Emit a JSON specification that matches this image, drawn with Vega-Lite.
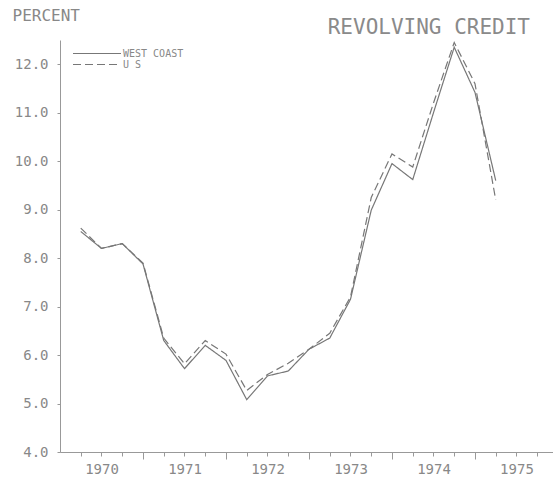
{
  "$schema": "https://vega.github.io/schema/vega-lite/v6.json",
  "width": 493,
  "height": 412,
  "autosize": {"type": "none"},
  "padding": {"left": 60, "top": 40, "right": 0, "bottom": 25},
  "background": "white",
  "config": {"view": {"stroke": null}, "font": "DejaVu Sans Mono"},
  "title": {"text": "REVOLVING CREDIT", "anchor": "end", "dx": -23, "dy": 34, "offset": 3, "fontSize": 21, "font": "DejaVu Sans Mono", "fontWeight": "normal", "color": "#8a8a8a"},
  "data": {"values": [
    {"t": 1970.25, "series": "WEST COAST", "value": 8.55},
    {"t": 1970.5, "series": "WEST COAST", "value": 8.2},
    {"t": 1970.75, "series": "WEST COAST", "value": 8.3},
    {"t": 1971.0, "series": "WEST COAST", "value": 7.88},
    {"t": 1971.25, "series": "WEST COAST", "value": 6.3},
    {"t": 1971.5, "series": "WEST COAST", "value": 5.72},
    {"t": 1971.75, "series": "WEST COAST", "value": 6.2},
    {"t": 1972.0, "series": "WEST COAST", "value": 5.89},
    {"t": 1972.25, "series": "WEST COAST", "value": 5.08},
    {"t": 1972.5, "series": "WEST COAST", "value": 5.57},
    {"t": 1972.75, "series": "WEST COAST", "value": 5.67},
    {"t": 1973.0, "series": "WEST COAST", "value": 6.12},
    {"t": 1973.25, "series": "WEST COAST", "value": 6.35},
    {"t": 1973.5, "series": "WEST COAST", "value": 7.15},
    {"t": 1973.75, "series": "WEST COAST", "value": 8.99},
    {"t": 1974.0, "series": "WEST COAST", "value": 9.95},
    {"t": 1974.25, "series": "WEST COAST", "value": 9.62},
    {"t": 1974.5, "series": "WEST COAST", "value": 11.0},
    {"t": 1974.75, "series": "WEST COAST", "value": 12.35},
    {"t": 1975.0, "series": "WEST COAST", "value": 11.42},
    {"t": 1975.25, "series": "WEST COAST", "value": 9.6},
    {"t": 1970.25, "series": "U S", "value": 8.62},
    {"t": 1970.5, "series": "U S", "value": 8.2},
    {"t": 1970.75, "series": "U S", "value": 8.3},
    {"t": 1971.0, "series": "U S", "value": 7.9},
    {"t": 1971.25, "series": "U S", "value": 6.35},
    {"t": 1971.5, "series": "U S", "value": 5.82},
    {"t": 1971.75, "series": "U S", "value": 6.3},
    {"t": 1972.0, "series": "U S", "value": 6.02},
    {"t": 1972.25, "series": "U S", "value": 5.27},
    {"t": 1972.5, "series": "U S", "value": 5.6},
    {"t": 1972.75, "series": "U S", "value": 5.83},
    {"t": 1973.0, "series": "U S", "value": 6.12},
    {"t": 1973.25, "series": "U S", "value": 6.45},
    {"t": 1973.5, "series": "U S", "value": 7.2},
    {"t": 1973.75, "series": "U S", "value": 9.25},
    {"t": 1974.0, "series": "U S", "value": 10.15},
    {"t": 1974.25, "series": "U S", "value": 9.88},
    {"t": 1974.5, "series": "U S", "value": 11.2},
    {"t": 1974.75, "series": "U S", "value": 12.45},
    {"t": 1975.0, "series": "U S", "value": 11.6},
    {"t": 1975.25, "series": "U S", "value": 9.2}
  ]},
  "mark": {"type": "line", "strokeWidth": 1.2, "color": "#777777", "clip": false},
  "encoding": {
    "x": {
      "field": "t", "type": "quantitative",
      "scale": {"domain": [1970, 1975.94], "nice": false, "zero": false},
      "axis": {
        "values": [1970.25, 1970.5, 1970.75, 1971, 1971.25, 1971.5, 1971.75, 1972, 1972.25, 1972.5, 1972.75, 1973, 1973.25, 1973.5, 1973.75, 1974, 1974.25, 1974.5, 1974.75, 1975, 1975.25, 1975.5, 1975.75],
        "labelExpr": "(datum.value*4)%4==2 ? floor(datum.value) : ''",
        "tickSize": {"condition": {"test": "(datum.value*4)%4==0", "value": 7}, "value": 4},
        "title": null, "grid": false,
        "domainColor": "#999999", "tickColor": "#999999",
        "labelColor": "#888888", "labelFontSize": 14, "labelFont": "DejaVu Sans Mono",
        "labelPadding": 6, "labelFlush": false, "labelOverlap": false
      }
    },
    "y": {
      "field": "value", "type": "quantitative",
      "scale": {"domain": [4, 12.5], "nice": false, "zero": false},
      "axis": {
        "values": [4, 5, 6, 7, 8, 9, 10, 11, 12],
        "format": ".1f",
        "tickSize": 3, "labelPadding": 9, "grid": false,
        "domainColor": "#999999", "tickColor": "#999999",
        "labelColor": "#888888", "labelFontSize": 14, "labelFont": "DejaVu Sans Mono",
        "title": "PERCENT", "titleAngle": 0, "titleAlign": "left", "titleBaseline": "middle",
        "titleX": -48, "titleY": -25, "titleFontSize": 16, "titleFontWeight": "normal",
        "titleColor": "#888888", "titleFont": "DejaVu Sans Mono"
      }
    },
    "strokeDash": {
      "field": "series", "type": "nominal",
      "scale": {"domain": ["WEST COAST", "U S"], "range": [[1, 0], [8, 4]]},
      "legend": {
        "orient": "none", "legendX": 12, "legendY": 9, "title": null,
        "symbolType": "stroke", "symbolSize": 2304, "symbolStrokeColor": "#777777", "symbolStrokeWidth": 1.2,
        "labelFontSize": 10, "labelColor": "#888888", "labelFont": "DejaVu Sans Mono",
        "labelOffset": 1, "rowPadding": 0, "clipHeight": 9, "padding": 0
      }
    }
  }
}
